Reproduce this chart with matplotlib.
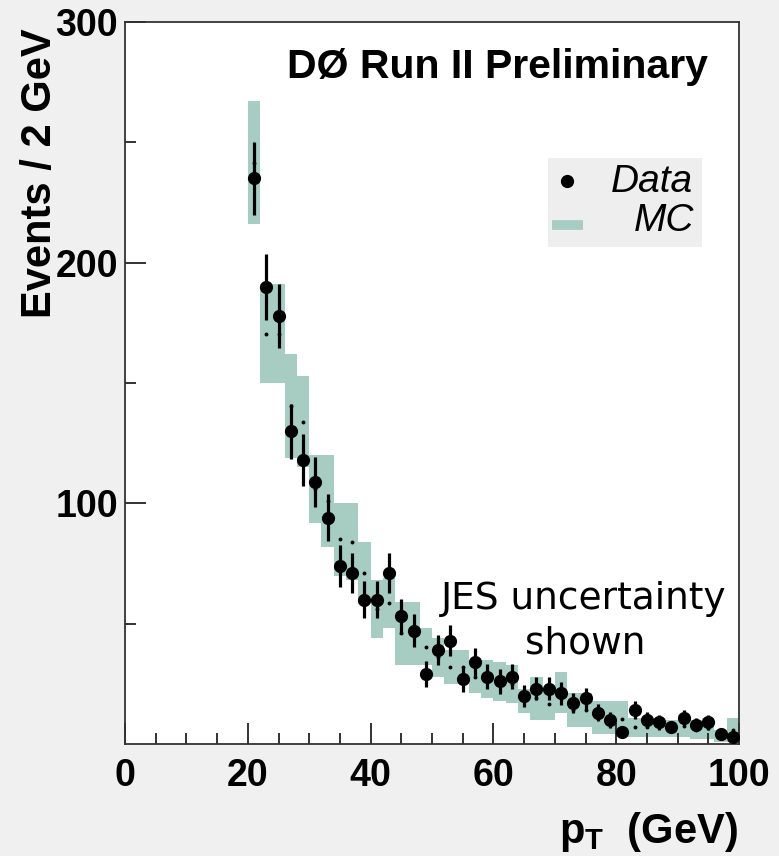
import matplotlib
matplotlib.use('Agg')
import matplotlib.pyplot as plt
import numpy as np
from matplotlib.patches import Rectangle
from matplotlib.lines import Line2D

# ---- data ----
bin_edges = list(range(20, 101, 2))  # 2 GeV bins from 20 to 100 GeV

data_counts = [235, 190, 178, 130, 118, 109, 94, 74, 71, 60,
               60, 71, 53, 47, 29, 39, 43, 27, 34, 28,
               26, 28, 20, 23, 23, 21, 17, 19, 13, 10,
               5, 14, 10, 9, 7, 11, 8, 9, 4, 3]
data_errors = [15.3, 13.8, 13.3, 11.4, 10.9, 10.4, 9.7, 8.6, 8.4, 7.7,
               7.7, 8.4, 7.3, 6.9, 5.4, 6.2, 6.6, 5.2, 5.8, 5.3,
               5.1, 5.3, 4.5, 4.8, 4.8, 4.6, 4.1, 4.4, 3.6, 3.2,
               2.2, 3.7, 3.2, 3.0, 2.6, 3.3, 2.8, 3.0, 2.0, 1.7]
mc_low = [216, 150, 150, 119, 115, 92, 82, 70, 68, 58,
          44, 48, 33, 33, 33, 28, 25, 25, 21, 19,
          18, 17, 13, 10, 10, 13, 7, 7, 4, 4,
          3, 3, 3, 3, 3, 3, 2, 2, 1, 1]
mc_high = [267, 191, 191, 162, 153, 120, 120, 100, 100, 84,
           68, 69, 59, 59, 48, 44, 39, 39, 35, 35,
           34, 33, 23, 28, 23, 30, 21, 21, 18, 18,
           18, 11, 11, 11, 10, 12, 10, 11, 6, 11]

x_major = [0, 20, 40, 60, 80, 100]
y_major = [100, 200, 300]

# ---- style ----
plt.rcParams['font.family'] = ['Liberation Sans', 'DejaVu Sans']
plt.rcParams['mathtext.fontset'] = 'custom'
plt.rcParams['mathtext.bf'] = 'Liberation Sans:bold'
plt.rcParams['mathtext.rm'] = 'Liberation Sans'
plt.rcParams['mathtext.it'] = 'Liberation Sans:italic'

BAND = '#a7ccc2'
BG = '#f0f0f0'
W, H = 779, 856

fig = plt.figure(figsize=(W / 100, H / 100), dpi=100, facecolor=BG)
ax = fig.add_axes([125 / W, 112 / H, 614 / W, 722 / H])
ax.set_facecolor('white')

edges = np.array(bin_edges, dtype=float)
centers = 0.5 * (edges[:-1] + edges[1:])
lo = np.array(mc_low, dtype=float)
hi = np.array(mc_high, dtype=float)

ax.stairs(hi, edges, baseline=lo, fill=True, color=BAND, lw=0, zorder=1)
ax.plot(centers, 0.5 * (lo + hi), ls='none', marker='o', ms=1.8,
        color='k', zorder=2)
ax.errorbar(centers, data_counts, yerr=data_errors, fmt='o', color='k',
            ms=8.5, elinewidth=2.3, capsize=0, zorder=3)

ax.set_xlim(0, 100)
ax.set_ylim(0, 300)
ax.set_xticks(x_major)
ax.set_xticks(np.arange(0, 101, 5), minor=True)
ax.set_yticks(y_major)
ax.set_yticks([50, 150, 250], minor=True)
ax.tick_params(which='both', direction='in', top=False, right=False,
               color='#222222', width=1.3)
ax.tick_params(which='major', length=15, labelsize=27)
ax.tick_params(which='minor', length=8)
ax.tick_params(axis='x', which='major', pad=10)
ax.tick_params(axis='y', which='major', pad=5)
for lab in ax.get_xticklabels() + ax.get_yticklabels():
    lab.set_fontweight('bold')
for sp in ax.spines.values():
    sp.set_color('#333333')
    sp.set_linewidth(1.3)

# axis labels
fig.text(40 / W, 1 - 173 / H, 'Events / 2 GeV', rotation=90, ha='center',
         va='center', fontsize=30, fontweight='bold')
fig.text(648 / W, 1 - 843 / H, r'$\mathbf{p_T}$  (GeV)', ha='center',
         va='baseline', fontsize=30, fontweight='bold')

# header
fig.text(497 / W, 1 - 67 / H, 'DØ Run II Preliminary', ha='center',
         va='center', fontsize=29.5, fontweight='bold')

# legend (drawn by hand)
ax.add_patch(Rectangle((548 / W, 1 - 247 / H), 154 / W, 89 / H,
                       transform=fig.transFigure, facecolor='#eeeeee',
                       edgecolor='none', zorder=5, clip_on=False))
ax.add_line(Line2D([567 / W], [1 - 181 / H], marker='o', ms=8.5, color='k',
                   transform=fig.transFigure, zorder=6, clip_on=False))
ax.add_line(Line2D([552 / W, 583 / W], [1 - 225 / H, 1 - 225 / H], lw=7,
                   color=BAND, transform=fig.transFigure, zorder=6,
                   clip_on=False, solid_capstyle='butt'))
fig.text(693 / W, 1 - 182 / H, 'Data', ha='right', va='center',
         fontsize=28, style='italic', zorder=7)
fig.text(694 / W, 1 - 221 / H, 'MC', ha='right', va='center',
         fontsize=28, style='italic', zorder=7)

# annotation
fig.text(584 / W, 1 - 609 / H, 'JES uncertainty', ha='center',
         va='baseline', fontsize=27, family='DejaVu Sans')
fig.text(585 / W, 1 - 653 / H, 'shown', ha='center', va='baseline',
         fontsize=27, family='DejaVu Sans')

fig.savefig('out.png', dpi=100, facecolor=BG)
